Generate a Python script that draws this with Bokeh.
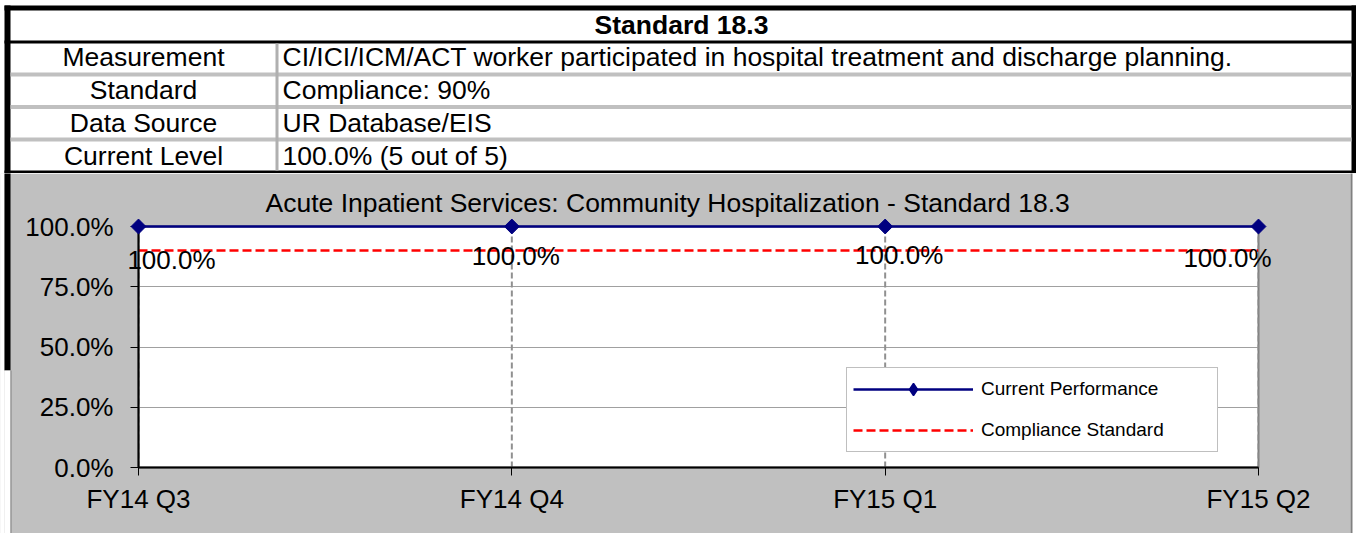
import math
from bokeh.plotting import figure
from bokeh.models import (Range1d, FixedTicker, NumeralTickFormatter, ColumnDataSource,
                          Legend, LegendItem, Title)
from bokeh.embed import file_html
from bokeh.resources import INLINE
from bokeh.core.properties import value

FONT = "Liberation Sans"

# ---------------- data ----------------
table_title = "Standard 18.3"
row_labels = ["Measurement", "Standard", "Data Source", "Current Level"]
row_values = [
    "CI/ICI/ICM/ACT worker participated in hospital treatment and discharge planning.",
    "Compliance: 90%",
    "UR Database/EIS",
    "100.0% (5 out of 5)",
]

chart_title = "Acute Inpatient Services: Community Hospitalization - Standard  18.3"
quarters = ["FY14 Q3", "FY14 Q4", "FY15 Q1", "FY15 Q2"]
series_names = ["Current Performance", "Compliance Standard"]
current_performance = [1.0, 1.0, 1.0, 1.0]
compliance_standard = [0.9, 0.9, 0.9, 0.9]
y_ticks = [0.0, 0.25, 0.5, 0.75, 1.0]

# label placement (screen px, layout only)
label_dx = [33, 4, 14, -31]
label_dy = [33, 29, 28.5, 31]

W = 1356

# ---------------- table ----------------
TH = 173
t = figure(width=W, height=TH, x_range=Range1d(0, W), y_range=Range1d(TH, 0),
           toolbar_location=None, output_backend="svg", min_border=0,
           x_axis_location=None, y_axis_location=None)
t.grid.visible = False
t.outline_line_color = None
t.background_fill_color = "white"
t.border_fill_color = "white"

n = len(row_labels)
rows_top = 43
row_pitch = 32.5
rows_bottom = 170
col_split = 275
left_edge, right_edge = 10, 1351

# black frame lines: top, header separator, bottom, left, right
t.quad(left=[4, 4, 4, 4, right_edge], right=[W, W, W, left_edge, W],
       top=[5, 40, rows_bottom, 5, 5], bottom=[10, rows_top, TH, TH, TH],
       fill_color="black", line_color=None)
# gray separators between rows
seps = [rows_top + (i + 1) * row_pitch - 3.5 for i in range(n - 1)]
t.quad(left=[left_edge] * len(seps), right=[right_edge] * len(seps), top=seps,
       bottom=[s + 4 for s in seps], fill_color="#C0C0C0", line_color=None)
# vertical divider
t.quad(left=[col_split], right=[col_split + 3], top=[rows_top], bottom=[rows_bottom],
       fill_color="#B0B0B0", line_color=None)

t.text(x=[681], y=[24], text=[table_title], text_align="center",
       text_baseline="middle", text_font=value(FONT), text_font_size="26.5px",
       text_font_style="bold", text_color="black")
ys = [rows_top + 13 + i * 33 for i in range(n)]
t.text(x=[143] * n, y=ys, text=row_labels, text_align="center",
       text_baseline="middle", text_font=value(FONT), text_font_size="26.5px", text_color="black")
t.text(x=[col_split + 7] * n, y=ys, text=row_values, text_align="left",
       text_baseline="middle", text_font=value(FONT), text_font_size="26.5px", text_color="black")

# ---------------- chart ----------------
CH = 533 - TH
FL, FR, FT, FB = 138, 1258, 226, 467   # frame edges in page px
p = figure(width=W, height=CH, x_range=Range1d(0, len(quarters) - 1), y_range=Range1d(0, 1),
           toolbar_location=None, output_backend="svg",
           min_border_left=FL, min_border_right=W - FR, min_border_top=FT - TH,
           min_border_bottom=533 - FB)
p.border_fill_color = "#C0C0C0"
p.background_fill_color = "white"
p.outline_line_color = "#808080"
p.outline_line_width = 2

p.title = Title(text=chart_title, align="left", offset=127, text_font=FONT,
                text_font_size="26.5px", text_font_style="normal", text_color="black", standoff=17)

p.xaxis.ticker = FixedTicker(ticks=list(range(len(quarters))))
p.xaxis.major_label_overrides = {i: q for i, q in enumerate(quarters)}
p.yaxis.ticker = FixedTicker(ticks=y_ticks)
p.yaxis.formatter = NumeralTickFormatter(format="0.0%")
for ax in (p.xaxis, p.yaxis):
    ax.axis_line_color = "black"
    ax.axis_line_width = 2
    ax.major_tick_in = 0
    ax.major_tick_out = 8
    ax.major_tick_line_color = "black"
    ax.minor_tick_line_color = None
    ax.major_label_text_font = FONT
    ax.major_label_text_font_size = "26px"
    ax.major_label_text_color = "black"
p.yaxis.major_label_standoff = 17
p.xaxis.major_label_standoff = 8
p.xgrid.visible = False
p.ygrid.ticker = FixedTicker(ticks=y_ticks)
p.ygrid.grid_line_color = "#A0A0A0"
p.ygrid.grid_line_width = 1

# page-edge decoration (continuation of the table's outer border), in page px
def _dx(sx):
    return (sx - FL) * (len(quarters) - 1) / (FR - FL)

def _dy(sy):
    return (FB - sy) / (FB - FT)

p.quad(left=[_dx(0), _dx(4), _dx(4), _dx(W - 6)], right=[_dx(4), _dx(10), _dx(10), _dx(W)],
       top=[_dy(TH), _dy(TH), _dy(370), _dy(TH)], bottom=[_dy(533), _dy(370), _dy(533), _dy(533)],
       fill_color=["white", "black", "white", "white"], line_color=None, level="overlay")
p.quad(left=[_dx(10), _dx(W - 6)], right=[_dx(11), _dx(W - 4)],
       top=[_dy(370), _dy(TH)], bottom=[_dy(533), _dy(533)],
       fill_color="#808080", line_color=None, level="overlay")

src = ColumnDataSource(dict(
    x=list(range(len(quarters))),
    perf=current_performance,
    std=compliance_standard,
    label=[f"{v * 100:.1f}%" for v in current_performance],
    dx=label_dx,
    dy=label_dy,
))

p.segment(x0="x", y0=0, x1="x", y1="perf", source=src, line_color="#909090",
          line_width=2, line_dash="6 3")
std_r = p.line("x", "std", source=src, line_color="#FF0000", line_width=2.5, line_dash="9 4")
p.text(x="x", y="perf", text="label", source=src, x_offset="dx", y_offset="dy",
       text_align="center", text_baseline="middle", text_font=value(FONT),
       text_font_size="26px", text_color="black", level="overlay")
perf_line = p.line("x", "perf", source=src, line_color="#000080", line_width=2.5, level="overlay")
perf_pts = p.scatter("x", "perf", source=src, marker="square", angle=math.pi / 4, size=10.5,
                     fill_color="#000080", line_color="#000080", level="overlay")
# diamond used only for the legend swatch
legend_pts = p.scatter("x", "perf", source=src, marker="diamond", size=12,
                       fill_color="#000080", line_color="#000080", line_width=1.5,
                       visible=False)

legend = Legend(items=[LegendItem(label=series_names[0], renderers=[perf_line, legend_pts]),
                       LegendItem(label=series_names[1], renderers=[std_r])],
                location=(708, 15), padding=6, spacing=11, glyph_width=120, glyph_height=30,
                label_height=20, label_width=230, label_standoff=8,
                label_text_font=FONT, label_text_font_size="19px", label_text_color="black",
                border_line_color="#808080", border_line_width=1,
                background_fill_color="white", background_fill_alpha=1,
                inactive_fill_alpha=0)
p.add_layout(legend)

open("out.html", "w").write(file_html([t, p], INLINE))
